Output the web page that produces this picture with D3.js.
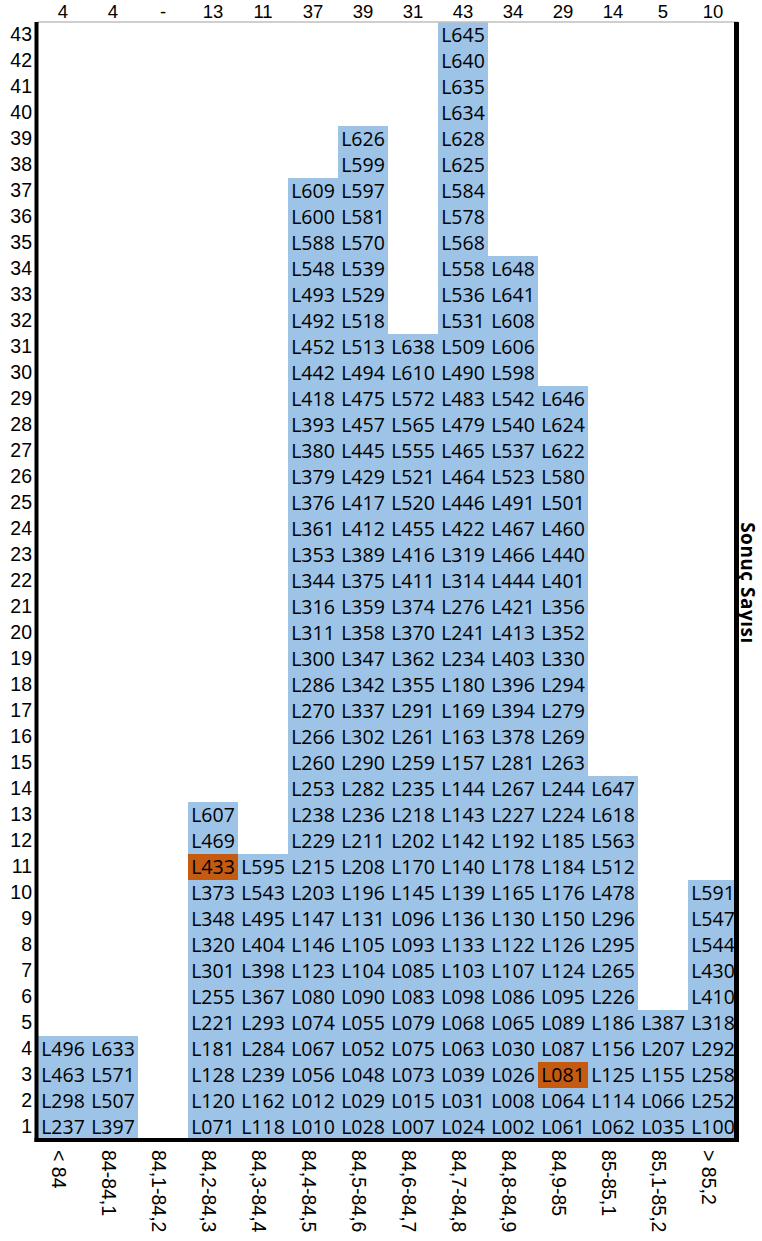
<!DOCTYPE html>
<html lang="tr">
<head>
    <meta charset="UTF-8">
    <title>Sonuç Sayısı</title>
    <script src="https://d3js.org/d3.v7.min.js"></script>
    <style>
        body {
            margin: 0;
            background: #fff;
        }
        svg {
            display: block;
            font-family: "Open Sans", sans-serif;
        }
        .cell-text {
            font-size: 19.5px;
            fill: #000;
        }
        .axis text {
            font-size: 19.5px;
            fill: #000;
        }
        .axis.top text {
            font-size: 18.5px;
        }
        .axis-title {
            font-size: 19px;
            font-weight: bold;
            letter-spacing: 0.5px;
        }
    </style>
</head>
<body>

<svg id="chart" width="762" height="1241"></svg>

<script>
    // result ranges (x categories)
    const categories = ["< 84", "84-84,1", "84,1-84,2", "84,2-84,3", "84,3-84,4", "84,4-84,5", "84,5-84,6",
        "84,6-84,7", "84,7-84,8", "84,8-84,9", "84,9-85", "85-85,1", "85,1-85,2", "> 85,2"];

    // lab codes in each range, listed bottom to top
    const labs = [
        ["L237", "L298", "L463", "L496"],
        ["L397", "L507", "L571", "L633"],
        [],
        ["L071", "L120", "L128", "L181", "L221", "L255", "L301", "L320", "L348", "L373", "L433", "L469", "L607"],
        ["L118", "L162", "L239", "L284", "L293", "L367", "L398", "L404", "L495", "L543", "L595"],
        ["L010", "L012", "L056", "L067", "L074", "L080", "L123", "L146", "L147", "L203", "L215", "L229", "L238",
            "L253", "L260", "L266", "L270", "L286", "L300", "L311", "L316", "L344", "L353", "L361", "L376", "L379",
            "L380", "L393", "L418", "L442", "L452", "L492", "L493", "L548", "L588", "L600", "L609"],
        ["L028", "L029", "L048", "L052", "L055", "L090", "L104", "L105", "L131", "L196", "L208", "L211", "L236",
            "L282", "L290", "L302", "L337", "L342", "L347", "L358", "L359", "L375", "L389", "L412", "L417", "L429",
            "L445", "L457", "L475", "L494", "L513", "L518", "L529", "L539", "L570", "L581", "L597", "L599", "L626"],
        ["L007", "L015", "L073", "L075", "L079", "L083", "L085", "L093", "L096", "L145", "L170", "L202", "L218",
            "L235", "L259", "L261", "L291", "L355", "L362", "L370", "L374", "L411", "L416", "L455", "L520", "L521",
            "L555", "L565", "L572", "L610", "L638"],
        ["L024", "L031", "L039", "L063", "L068", "L098", "L103", "L133", "L136", "L139", "L140", "L142", "L143",
            "L144", "L157", "L163", "L169", "L180", "L234", "L241", "L276", "L314", "L319", "L422", "L446", "L464",
            "L465", "L479", "L483", "L490", "L509", "L531", "L536", "L558", "L568", "L578", "L584", "L625", "L628",
            "L634", "L635", "L640", "L645"],
        ["L002", "L008", "L026", "L030", "L065", "L086", "L107", "L122", "L130", "L165", "L178", "L192", "L227",
            "L267", "L281", "L378", "L394", "L396", "L403", "L413", "L421", "L444", "L466", "L467", "L491", "L523",
            "L537", "L540", "L542", "L598", "L606", "L608", "L641", "L648"],
        ["L061", "L064", "L081", "L087", "L089", "L095", "L124", "L126", "L150", "L176", "L184", "L185", "L224",
            "L244", "L263", "L269", "L279", "L294", "L330", "L352", "L356", "L401", "L440", "L460", "L501", "L580",
            "L622", "L624", "L646"],
        ["L062", "L114", "L125", "L156", "L186", "L226", "L265", "L295", "L296", "L478", "L512", "L563", "L618", "L647"],
        ["L035", "L066", "L155", "L207", "L387"],
        ["L100", "L252", "L258", "L292", "L318", "L410", "L430", "L544", "L547", "L591"]
    ];

    // labs marked in orange
    const highlighted = ["L433", "L081"];

    // row numbers on the left axis
    const rowTicks = d3.range(1, 44);

    const plot = {left: 38, right: 738, top: 22, bottom: 1140};

    const x = d3.scaleBand()
        .domain(categories)
        .range([plot.left, plot.right]);

    const y = d3.scaleBand()
        .domain(rowTicks)
        .range([plot.bottom, plot.top]);

    const cells = labs.flatMap((col, i) => col.map((code, j) => ({
        cat: categories[i], row: j + 1, code: code
    })));

    const svg = d3.select("#chart");

    // cell backgrounds
    svg.append("g")
        .attr("shape-rendering", "crispEdges")
        .selectAll("rect")
        .data(cells)
        .join("rect")
        .attr("x", d => x(d.cat))
        .attr("y", d => y(d.row))
        .attr("width", x.bandwidth())
        .attr("height", y.bandwidth())
        .attr("fill", d => highlighted.includes(d.code) ? "#C55A11" : "#9DC3E6");

    // cell labels
    svg.append("g")
        .selectAll("text")
        .data(cells)
        .join("text")
        .attr("class", "cell-text")
        .attr("x", d => x(d.cat) + x.bandwidth() / 2)
        .attr("y", d => y(d.row) + y.bandwidth() / 2)
        .attr("dy", "0.36em")
        .attr("text-anchor", "middle")
        .text(d => d.code);

    // frame: thin grey top, thick black sides and bottom
    svg.append("line")
        .attr("x1", plot.left).attr("x2", plot.right)
        .attr("y1", plot.top).attr("y2", plot.top)
        .attr("stroke", "#bfbfbf").attr("stroke-width", 1.5);
    svg.append("line")
        .attr("x1", plot.left - 1.5).attr("x2", plot.left - 1.5)
        .attr("y1", plot.top).attr("y2", plot.bottom + 2)
        .attr("stroke", "#000").attr("stroke-width", 4);
    svg.append("line")
        .attr("x1", plot.right - 1.5).attr("x2", plot.right - 1.5)
        .attr("y1", plot.top).attr("y2", plot.bottom + 2)
        .attr("stroke", "#000").attr("stroke-width", 5);
    svg.append("line")
        .attr("x1", plot.left - 3.5).attr("x2", plot.right + 1)
        .attr("y1", plot.bottom).attr("y2", plot.bottom)
        .attr("stroke", "#000").attr("stroke-width", 4);

    // counts on top
    svg.append("g")
        .attr("class", "axis top")
        .attr("transform", `translate(0,${plot.top - 1})`)
        .call(d3.axisTop(x).tickSize(0).tickPadding(3)
            .tickFormat((d, i) => labs[i].length || "-"))
        .call(g => g.select(".domain").remove());

    // row numbers
    svg.append("g")
        .attr("class", "axis")
        .attr("transform", `translate(${plot.left - 3},0)`)
        .call(d3.axisLeft(y).tickSize(0).tickPadding(3))
        .call(g => g.select(".domain").remove());

    // range labels, rotated
    svg.append("g")
        .attr("class", "axis")
        .attr("transform", `translate(0,${plot.bottom})`)
        .call(d3.axisBottom(x).tickSize(0))
        .call(g => g.select(".domain").remove())
        .selectAll("text")
        .attr("transform", "rotate(90)")
        .attr("text-anchor", "start")
        .attr("x", 10)
        .attr("y", 4)
        .attr("dy", "0.35em");

    // right axis title
    svg.append("text")
        .attr("class", "axis-title")
        .attr("transform", `translate(741,${(plot.top + plot.bottom) / 2 + 2}) rotate(90)`)
        .attr("text-anchor", "middle")
        .text("Sonuç Sayısı");
</script>

</body>
</html>
